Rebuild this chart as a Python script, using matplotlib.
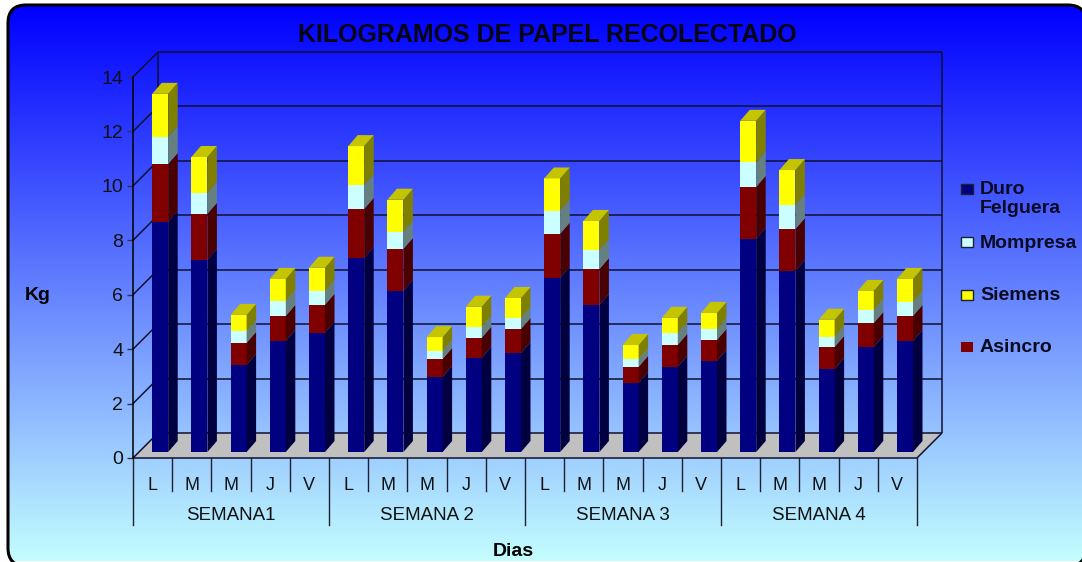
import numpy as np
import matplotlib
matplotlib.use('Agg')
import matplotlib.pyplot as plt
from matplotlib.patches import FancyBboxPatch, Polygon, Rectangle

plt.rcParams['font.family'] = ['Liberation Sans', 'DejaVu Sans']

# Datos
dias = ['L', 'M', 'M', 'J', 'V'] * 4
semanas = ['SEMANA1', 'SEMANA 2', 'SEMANA 3', 'SEMANA 4']
duro = [8.45, 7.06, 3.20, 4.08, 4.38, 7.13, 5.92, 2.76, 3.46, 3.64,
        6.40, 5.40, 2.54, 3.13, 3.35, 7.83, 6.65, 3.05, 3.86, 4.08]
asincro = [2.13, 1.69, 0.81, 0.92, 1.03, 1.80, 1.54, 0.66, 0.74, 0.88,
           1.62, 1.32, 0.59, 0.81, 0.77, 1.91, 1.54, 0.81, 0.88, 0.92]
mompresa = [1.00, 0.77, 0.44, 0.55, 0.51, 0.88, 0.63, 0.29, 0.40, 0.40,
            0.85, 0.70, 0.29, 0.44, 0.40, 0.92, 0.88, 0.37, 0.48, 0.51]
siemens = [1.58, 1.32, 0.59, 0.81, 0.85, 1.43, 1.18, 0.51, 0.74, 0.74,
           1.18, 1.07, 0.51, 0.55, 0.59, 1.51, 1.29, 0.63, 0.70, 0.85]

W, H = 1082, 562
fig = plt.figure(figsize=(W / 100, H / 100), dpi=100, facecolor='white')

# Fondo con degradado y borde redondeado
bg = fig.add_axes([0, 0, 1, 1])
bg.axis('off')
t = np.linspace(0, 1, 256)
grad = np.zeros((256, 1, 3))
grad[:, 0, 0] = 0.77 * t
grad[:, 0, 1] = t
grad[:, 0, 2] = 1
# relleno casi transparente: sin relleno el borde sale deformado fuera del lienzo
frame = FancyBboxPatch((8 + 18, 5 + 18), 1086 - 8 - 36, 566 - 5 - 36,
                       boxstyle='round,pad=18,rounding_size=18',
                       linewidth=2.2, edgecolor='black', facecolor=(0, 0, 0, 0.002),
                       zorder=3, clip_on=True)
bg.add_patch(frame)
im = bg.imshow(grad, extent=[0, W, 561, 5], aspect='auto', zorder=1)
im.set_clip_path(frame)
bg.set_xlim(0, W)
bg.set_ylim(H, 0)

# Ejes: plano frontal del grafico 3D
ax = fig.add_axes([133 / W, (H - 458) / H, 784 / W, 381 / H])
ax.set_xlim(0, 20)
ax.set_ylim(0, 14)
ax.patch.set_visible(False)
for s in ['top', 'right', 'bottom']:
    ax.spines[s].set_visible(False)
ax.spines['left'].set_linewidth(1.1)

PX = 20 / 784
PY = 14 / 381
depth_x, depth_y = 25 * PX, 25 * PY
line_kw = dict(color='#101030', lw=1.1, clip_on=False, solid_capstyle='butt')

# Suelo y paredes
ax.add_patch(Polygon([(0, 0), (depth_x, depth_y), (20 + depth_x, depth_y), (20, 0)],
                     facecolor='#c0c0c0', edgecolor='none', clip_on=False, zorder=1))
yvals = np.arange(0, 15, 2)
for v in yvals:
    ax.plot([0, depth_x], [v, v + depth_y], zorder=2, **line_kw)
    ax.plot([depth_x, 20 + depth_x], [v + depth_y, v + depth_y], zorder=2, **line_kw)
ax.plot([depth_x, depth_x], [depth_y, 14 + depth_y], zorder=2, **line_kw)
ax.plot([20 + depth_x, 20 + depth_x], [depth_y, 14 + depth_y], zorder=2, **line_kw)
ax.plot([20, 20 + depth_x], [0, depth_y], zorder=2, **line_kw)
ax.plot([0, 20], [0, 0], zorder=2, **line_kw)

# Barras apiladas
series = [
    (duro, '#000080', '#000040'),
    (asincro, '#800000', '#480000'),
    (mompresa, '#ccffff', '#668080'),
    (siemens, '#ffff00', '#808000'),
]
base_y = 6 * PY
bar_w = 16 * PX
side_x, side_y = 9.5 * PX, 11 * PY
for i in range(len(dias)):
    x0 = i + 0.5 + 7.6 * PX - bar_w / 2
    x1 = x0 + bar_w
    bottom = base_y
    z = 5 + i
    for vals, front, side in series:
        top = bottom + vals[i]
        ax.add_patch(Rectangle((x0, bottom), bar_w, vals[i], facecolor=front,
                               edgecolor='none', clip_on=False, zorder=z))
        ax.add_patch(Polygon([(x1, bottom), (x1 + side_x, bottom + side_y),
                              (x1 + side_x, top + side_y), (x1, top)],
                             facecolor=side, edgecolor='none', clip_on=False, zorder=z))
        bottom = top
    ax.add_patch(Polygon([(x0, bottom), (x1, bottom), (x1 + side_x, bottom + side_y),
                          (x0 + side_x, bottom + side_y)],
                         facecolor='#c4c400', edgecolor='none', clip_on=False, zorder=z))

# Eje Y
ax.set_yticks(yvals)
ax.tick_params(axis='y', length=4, width=1, color='#303050', labelsize=14, pad=3, labelcolor='#111111')

# Eje X con dos niveles
ax.set_xticks(np.arange(20) + 0.5)
ax.set_xticklabels(dias)
ax.tick_params(axis='x', length=0, labelsize=13, pad=14, labelcolor='#111111')
for k in range(21):
    low = 67 if k % 5 == 0 else 33
    ax.plot([k, k], [0, -low * PY], color='#202030', lw=1.0, clip_on=False)
for g, nombre in enumerate(semanas):
    ax.text(g * 5 + 2.5, -57 * PY, nombre, ha='center', va='center', fontsize=13.5, color='#111111')

# Titulos
fig.text(547 / W, 1 - 35.5 / H, 'KILOGRAMOS DE PAPEL RECOLECTADO', ha='center', va='center',
         fontsize=18, fontweight='bold', color='#050515')
fig.text(38 / W, 1 - 295 / H, 'Kg', ha='center', va='center', fontsize=14, fontweight='bold', color='black')
fig.text(513 / W, 1 - 551 / H, 'Dias', ha='center', va='center', fontsize=14, fontweight='bold', color='black')

# Leyenda
leyenda = [('Duro\nFelguera', '#000080', 189), ('Mompresa', '#ccffff', 242),
           ('Siemens', '#ffff00', 295), ('Asincro', '#800000', 347)]
for nombre, color, ly in leyenda:
    edge = 'none' if nombre == 'Asincro' else '#202030'
    bg.add_patch(Rectangle((961, ly - 5), 12, 10, facecolor=color, edgecolor=edge, lw=1, zorder=4))
    bg.text(980, ly - 7.5, nombre, ha='left', va='top', fontsize=14, fontweight='bold',
            color='#0a0a20', linespacing=1.1, zorder=4)

fig.savefig('out.png', dpi=100)
